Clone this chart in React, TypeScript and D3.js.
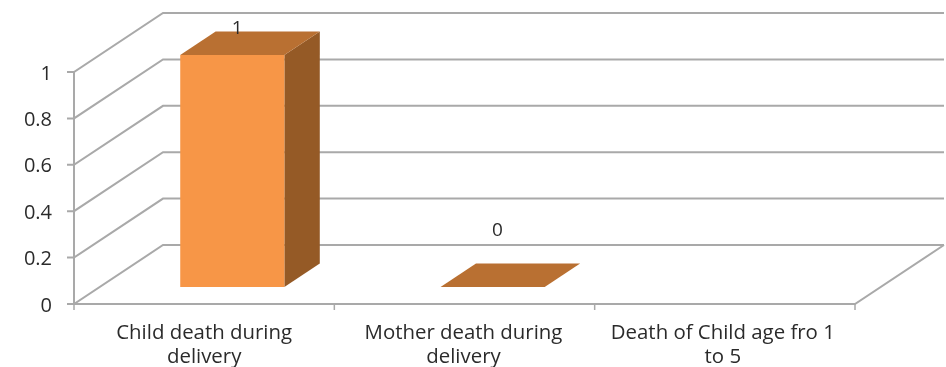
import React from "react";
import * as d3 from "d3";

const categories = [
  ["Child death during", "delivery"],
  ["Mother death during", "delivery"],
  ["Death of Child age fro 1", "to 5"],
];
const values: (number | null)[] = [1, 0, null];
const yTicks = [0, 0.2, 0.4, 0.6, 0.8, 1];
const yTickLabels = ["0", "0.2", "0.4", "0.6", "0.8", "1"];

const W = 946, H = 367;
const DX = 89, DY = -59;
const FRONT_Z = 0.288, BACK_Z = 0.686;
const GRID = "#a9a9a9";
const FRONT = "#f79646", TOP = "#b96f30", SIDE = "#955a27";
const FONT = "'Open Sans', 'Noto Sans', sans-serif";
const TEXT = "#2b2b2b";
const FS = 20;

const y = d3.scaleLinear().domain([0, 1]).range([304, 72]);
const band = d3.scaleBand<number>().domain([0, 1, 2]).range([74, 855]);
const barW = band.bandwidth() * 0.4;
const P = (x: number, v: number, z: number): [number, number] => [x + DX * z, y(v) + DY * z];
const poly = (pts: [number, number][]) => d3.line()(pts)! + "Z";

export default function App() {
  const [x0, x1] = band.range();
  return (
    <svg width={W} height={H} style={{ position: "absolute", left: 0, top: 0, background: "#fff" }}>
      <defs>
        <filter id="soft" x="-5%" y="-5%" width="110%" height="110%">
          <feGaussianBlur stdDeviation="0.55" />
        </filter>
      </defs>
      <g filter="url(#soft)">
        {yTicks.map((t) => {
          const a = P(x0, t, 0), b = P(x0, t, 1), c = P(x1, t, 1);
          return (
            <g key={t} fill="none" stroke={GRID} strokeWidth={2}>
              <path d={d3.line()([[a[0] - 7, a[1]], a, b, c])!} />
            </g>
          );
        })}
        <path d={d3.line()([P(x0, 0, 0), P(x0, 1, 0)])!} stroke={GRID} strokeWidth={2} fill="none" />
        <path d={d3.line()([P(x0, 0, 0), P(x1, 0, 0), P(x1, 0, 1)])!} stroke={GRID} strokeWidth={2} fill="none" />
        {[0, 1, 2, 3].map((i) => {
          const x = x0 + band.step() * i;
          return <line key={i} x1={x} x2={x} y1={304} y2={310} stroke={GRID} strokeWidth={1.5} />;
        })}
        {values.map((v, i) => {
          if (v === null) return null;
          const l = band(i)! + (band.bandwidth() - barW) / 2 + 2.5;
          const r = l + barW;
          return (
            <g key={i}>
              {v > 0 && (
                <path d={poly([P(r, 0, FRONT_Z), P(r, 0, BACK_Z), P(r, v, BACK_Z), P(r, v, FRONT_Z)])} fill={SIDE} />
              )}
              {v > 0 && (
                <path d={poly([P(l, 0, FRONT_Z), P(r, 0, FRONT_Z), P(r, v, FRONT_Z), P(l, v, FRONT_Z)])} fill={FRONT} />
              )}
              <path d={poly([P(l, v, FRONT_Z), P(r, v, FRONT_Z), P(r, v, BACK_Z), P(l, v, BACK_Z)])} fill={TOP} />
            </g>
          );
        })}
        {values.map((v, i) => {
          if (v === null) return null;
          const cx = band(i)! + band.bandwidth() / 2;
          const [px, py] = P(cx, v, BACK_Z);
          return (
            <text key={i} x={px - 28} y={py - 28 + (v > 0 ? 30 : 0)} textAnchor="middle" fontFamily={FONT} fontSize={FS - 1} fill={TEXT}>
              {v}
            </text>
          );
        })}
        {yTicks.map((t, i) => (
          <text key={t} x={52} y={y(t) + 7.5} textAnchor="end" fontFamily={FONT} fontSize={FS} fill={TEXT}>
            {yTickLabels[i]}
          </text>
        ))}
        {categories.map((lines, i) => {
          const cx = band(i)! + band.bandwidth() / 2;
          return (
            <text key={i} textAnchor="middle" fontFamily={FONT} fontSize={FS + 0.4} fill={TEXT}>
              {lines.map((s, j) => (
                <tspan key={j} x={cx - i} y={339 + j * 24}>
                  {s}
                </tspan>
              ))}
            </text>
          );
        })}
      </g>
    </svg>
  );
}
